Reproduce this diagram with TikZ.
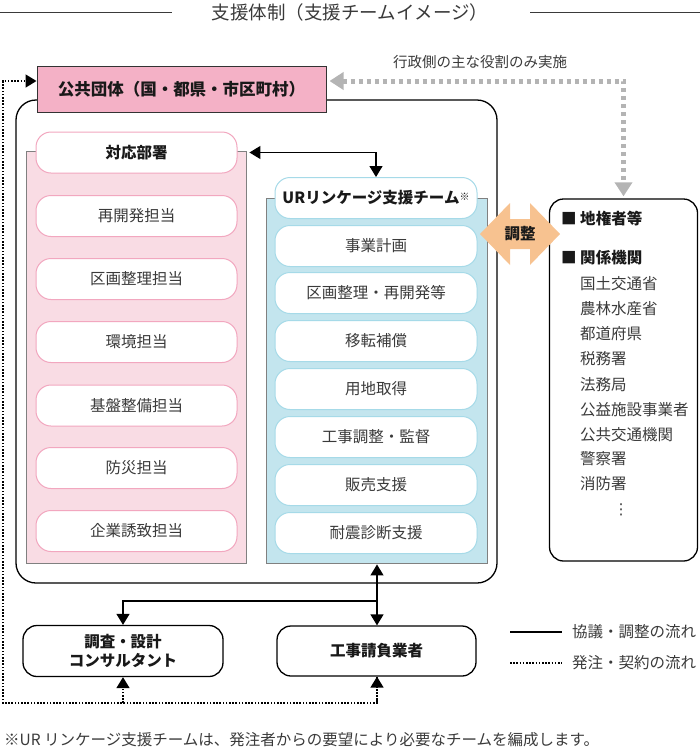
\documentclass[tikz,border=0pt]{standalone}
\usepackage{fontspec}
\setmainfont{Noto Sans CJK JP}
\newfontfamily\dejavu{DejaVu Sans}
\usetikzlibrary{arrows.meta}
\definecolor{txt}{HTML}{3A3A3A}
\definecolor{govpink}{HTML}{F4B1C6}
\definecolor{pinkbg}{HTML}{F9DCE4}
\definecolor{pinkline}{HTML}{F2A7BF}
\definecolor{bluebg}{HTML}{C3E5EE}
\definecolor{blueline}{HTML}{A6DAE8}
\definecolor{orng}{HTML}{F7C290}
\definecolor{grayarr}{HTML}{B4B4B4}
\begin{document}
\begin{tikzpicture}[x=1pt,y=-1pt,
  font=\fontsize{15.5}{19}\selectfont,
  tri/.tip={Triangle[length=11pt,width=13pt]},
  gtri/.tip={Triangle[length=14pt,width=17pt]},
  item/.style={rounded corners=15pt, fill=white, line width=1pt, minimum height=41pt, text=txt, inner sep=0pt},
  pitem/.style={item, draw=pinkline, minimum width=201pt},
  bitem/.style={item, draw=blueline, minimum width=202pt},
  panel/.style={draw=gray, line width=0.9pt, inner sep=0pt},
  hd/.style={font=\fontsize{15.5}{19}\selectfont\bfseries, text=black!90},
  bbox/.style={draw=black, line width=1.3pt, rounded corners=14pt, fill=white, inner sep=0pt, hd, align=center},
  solidln/.style={line width=1.3pt, draw=black},
  dotln/.style={line width=1.6pt, draw=black, dash pattern=on 1.6pt off 1.6pt},
  lbl/.style={text=txt, inner sep=0pt, anchor=west}
]
\useasboundingbox (0,0) rectangle (700,748);

% title
\node[inner sep=0pt, text=txt, font=\fontsize{18.5}{22}\selectfont] (title) at (350,12) {支援体制（支援チームイメージ）};
\draw[line width=0.9pt, txt] (0,12) -- (172,12);
\draw[line width=0.9pt, txt] (530,12) -- (700,12);

% outer box
\node[draw=black, line width=1.3pt, rounded corners=20pt, minimum width=481pt, minimum height=483pt, inner sep=0pt] (outer) at (256.5,341.5) {};

% government box
\node[draw=black!80, line width=1pt, fill=govpink, minimum width=289pt, minimum height=46pt, inner sep=0pt, hd, font=\fontsize{16.5}{19}\selectfont\bfseries] (gov) at (181.5,89) {公共団体（国・都県・市区町村）};

\node[inner sep=0pt, text=txt, font=\fontsize{14.5}{17}\selectfont] (note) at (480,62) {行政側の主な役割のみ実施};

% pink panel
\node[panel, fill=pinkbg, minimum width=220pt, minimum height=412pt] (pp) at (136,357) {};
\node[pitem, hd] (th) at (136.5,152.5) {対応部署};
\node[pitem] (p1) at (136.5,216) {再開発担当};
\node[pitem] (p2) at (136.5,279) {区画整理担当};
\node[pitem] (p3) at (136.5,342) {環境担当};
\node[pitem] (p4) at (136.5,405.5) {基盤整備担当};
\node[pitem] (p5) at (136.5,468) {防災担当};
\node[pitem] (p6) at (136.5,531) {企業誘致担当};

% blue panel
\node[panel, fill=bluebg, minimum width=221pt, minimum height=365pt] (bp) at (376.5,380.5) {};
\node[bitem, hd] (uh) at (376,198) {URリンケージ支援チーム\raisebox{3pt}{\fontsize{10}{12}\selectfont ※}};
\node[bitem] (b1) at (376,246) {事業計画};
\node[bitem] (b2) at (376,293) {区画整理・再開発等};
\node[bitem] (b3) at (376,341) {移転補償};
\node[bitem] (b4) at (376,389) {用地取得};
\node[bitem] (b5) at (376,437) {工事調整・監督};
\node[bitem] (b6) at (376,485) {販売支援};
\node[bitem] (b7) at (376,533) {耐震診断支援};

% arrow between headers
\draw[solidln, {tri}-{tri}] ([xshift=3pt]pp.east |- th.center) -| (uh.north);

% right box
\node[draw=black, line width=1.3pt, rounded corners=14pt, minimum width=148pt, minimum height=362pt, inner sep=0pt] (rb) at (623.5,380) {};
\node[lbl, hd] (r0) at (561,219) {■ 地権者等};
\node[lbl, hd] (r1) at (561,258) {■ 関係機関};
\node[lbl] (r2) at (580,284) {国土交通省};
\node[lbl] (r3) at (580,309) {農林水産省};
\node[lbl] (r4) at (580,334) {都道府県};
\node[lbl] (r5) at (580,359) {税務署};
\node[lbl] (r6) at (580,384.5) {法務局};
\node[lbl] (r7) at (580,409.5) {公益施設事業者};
\node[lbl] (r8) at (580,434.5) {公共交通機関};
\node[lbl] (r9) at (580,459) {警察署};
\node[lbl] (r10) at (580,484) {消防署};
\node[inner sep=0pt, text=txt, font=\dejavu\fontsize{15}{18}\selectfont] (r11) at (621,510) {⋮};

% coordination double arrow
\fill[orng] (480,234) -- (510,203) -- (510,219) -- (530,219) -- (530,203) -- (560,234)
  -- (530,265) -- (530,249) -- (510,249) -- (510,265) -- cycle;
\node[hd, inner sep=0pt] (chosei) at (520,234) {調整};

% gray dashed arrow
\draw[grayarr, line width=5pt, dash pattern=on 4pt off 4pt, {gtri}-{gtri}] ([xshift=3pt,yshift=8pt]gov.east) -| ([yshift=2pt]rb.north);

% bottom boxes
\node[bbox, minimum width=200pt, minimum height=51pt] (chosa) at (123,651) {調査・設計\\コンサルタント};
\node[bbox, minimum width=199pt, minimum height=50pt] (kouji) at (376.5,651) {工事請負業者};

\coordinate (jn) at (377,601);
\draw[solidln, -{tri}] (jn) -- ([yshift=-1pt]bp.south -| jn);
\draw[solidln, -{tri}] (jn) -- (kouji.north -| jn);
\draw[solidln, -{tri}] (jn) -| (chosa.north);

% dotted contract flow
\coordinate (dc) at (3,703);
\draw[dotln, -{tri}] (kouji.south -| jn) |- (dc) |- ([yshift=8pt]gov.west);
\draw[dotln, -{tri}] (dc -| chosa.south) -- (chosa.south);
\draw[dotln, -{tri}] (dc -| jn) -- (kouji.south -| jn);

% legend
\coordinate (l1a) at (510,632); \coordinate (l1b) at (562,632);
\coordinate (l2a) at (510,663); \coordinate (l2b) at (562,663);
\draw[solidln] (l1a) -- (l1b);
\draw[dotln] (l2a) -- (l2b);
\node[lbl] (lg1) at (572,632) {協議・調整の流れ};
\node[lbl] (lg2) at (572,663) {発注・契約の流れ};

% footnote
\node[lbl] (fn) at (4,740) {※UR リンケージ支援チームは、発注者からの要望により必要なチームを編成します。};
\end{tikzpicture}
\end{document}
